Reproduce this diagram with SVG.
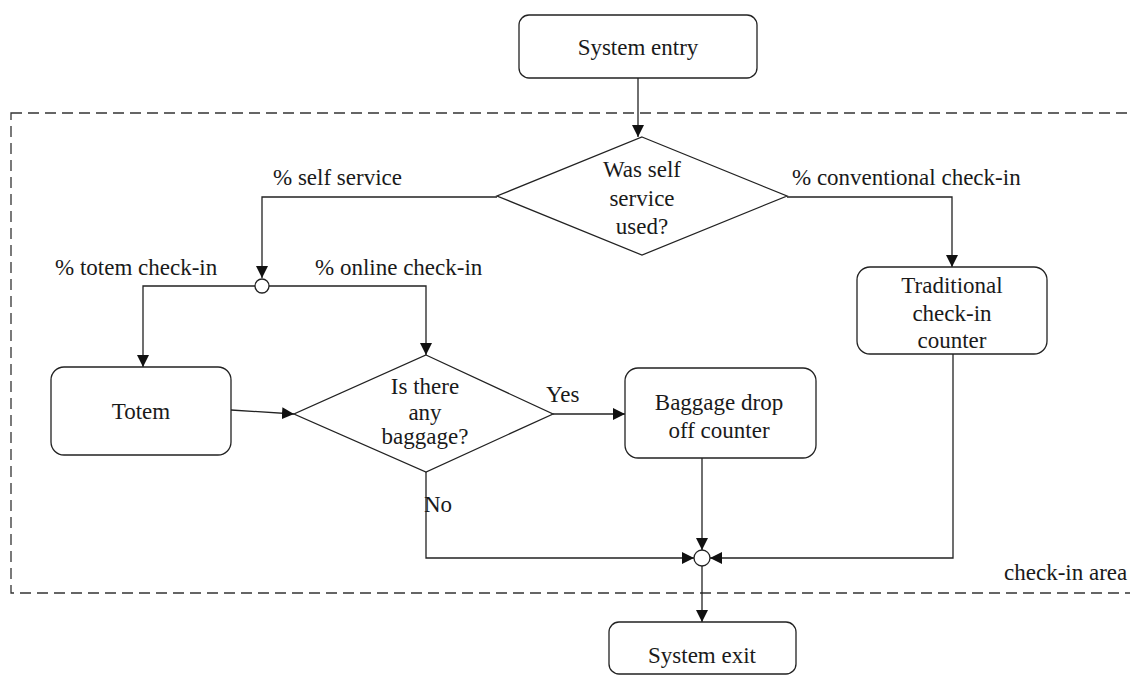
<svg xmlns="http://www.w3.org/2000/svg" width="1130" height="677" viewBox="0 0 1130 677">
<style>
.box{fill:#fff;stroke:#222;stroke-width:1.3}
.ln{fill:none;stroke:#222;stroke-width:1.3}
.t{font-family:"Liberation Serif","Times New Roman",serif;font-size:23px;fill:#1a1a1a;text-anchor:middle}
.l{font-family:"Liberation Serif","Times New Roman",serif;font-size:23px;fill:#1a1a1a}
</style>
<defs>
<marker id="arr" viewBox="0 0 12 12" refX="12" refY="6" markerWidth="12" markerHeight="12" markerUnits="userSpaceOnUse" orient="auto">
<path d="M0,0 L12,6 L0,12 Z" fill="#111"/>
</marker>
</defs>
<g id="area">
<rect x="11" y="113" width="1130" height="480" fill="none" stroke="#333" stroke-width="1.3" stroke-dasharray="11 6"/>
<text class="l" x="1004" y="580">check-in area</text>
</g>
<g id="connectors">
<path class="ln" d="M638,78 V137" marker-end="url(#arr)"/>
<path class="ln" d="M497,197 H262 V278" marker-end="url(#arr)"/>
<path class="ln" d="M255,286 H143 V367" marker-end="url(#arr)"/>
<path class="ln" d="M269,286 H426 V355" marker-end="url(#arr)"/>
<path class="ln" d="M787,197 H952 V267" marker-end="url(#arr)"/>
<path class="ln" d="M231,410 L294,414" marker-end="url(#arr)"/>
<path class="ln" d="M553,414 H625" marker-end="url(#arr)"/>
<path class="ln" d="M702,458 V550" marker-end="url(#arr)"/>
<path class="ln" d="M426,472 V558 H694" marker-end="url(#arr)"/>
<path class="ln" d="M953,354 V558 H710" marker-end="url(#arr)"/>
<path class="ln" d="M702,566 V622" marker-end="url(#arr)"/>
<text class="l" x="273" y="185">% self service</text>
<text class="l" x="792" y="185">% conventional check-in</text>
<text class="l" x="55" y="275">% totem check-in</text>
<text class="l" x="315" y="275">% online check-in</text>
<text class="l" x="546" y="402">Yes</text>
<text class="l" x="424" y="512">No</text>
</g>
<g id="entry">
<rect class="box" x="519" y="15" width="238" height="63" rx="10"/>
<text class="t" x="638" y="55">System entry</text>
</g>
<g id="decision-self">
<polygon class="box" points="642,137 787,196 642,255 497,196"/>
<text class="t" x="642" y="177">Was self</text>
<text class="t" x="642" y="206">service</text>
<text class="t" x="642" y="234">used?</text>
</g>
<g id="split">
<circle class="box" cx="262" cy="286" r="7"/>
</g>
<g id="totem">
<rect class="box" x="51" y="367" width="180" height="88" rx="13"/>
<text class="t" x="141" y="419">Totem</text>
</g>
<g id="decision-baggage">
<polygon class="box" points="426,355 553,414 426,472 294,414"/>
<text class="t" x="425" y="394">Is there</text>
<text class="t" x="425" y="420">any</text>
<text class="t" x="425" y="444">baggage?</text>
</g>
<g id="baggage-drop">
<rect class="box" x="625" y="368" width="191" height="90" rx="13"/>
<text class="t" x="719" y="410">Baggage drop</text>
<text class="t" x="719" y="438">off counter</text>
</g>
<g id="traditional">
<rect class="box" x="857" y="267" width="190" height="87" rx="13"/>
<text class="t" x="952" y="293">Traditional</text>
<text class="t" x="952" y="321">check-in</text>
<text class="t" x="952" y="348">counter</text>
</g>
<g id="merge">
<circle class="box" cx="702" cy="558" r="8"/>
</g>
<g id="exit">
<rect class="box" x="609" y="622" width="187" height="52" rx="10"/>
<text class="t" x="702" y="663">System exit</text>
</g>
</svg>
